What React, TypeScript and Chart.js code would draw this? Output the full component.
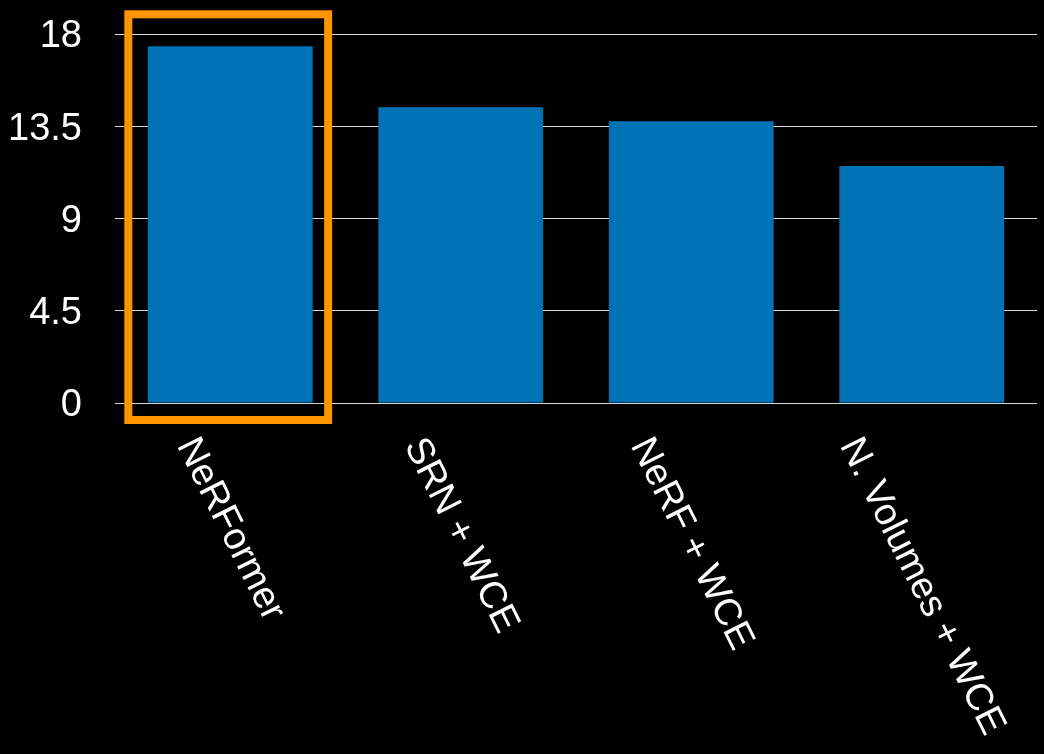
import React, { useEffect, useRef } from "react";
import { Chart, registerables } from "chart.js";

Chart.register(...registerables);

const categories = ["NeRFormer", "SRN + WCE", "NeRF + WCE", "N. Volumes + WCE"];
const values = [17.4, 14.43, 13.75, 11.56];
const yTickLabels = ["0", "4.5", "9", "13.5", "18"];
const highlightIndex = 0;

const FONT = "'Liberation Sans', Arial, Helvetica, sans-serif";

export default function App() {
  const ref = useRef<HTMLCanvasElement | null>(null);

  useEffect(() => {
    document.body.style.margin = "0";
    document.body.style.background = "#000";
    const canvas = ref.current;
    if (!canvas) return;

    const bgPlugin = {
      id: "bg",
      beforeDraw(chart: any) {
        const { ctx, width, height } = chart;
        ctx.save();
        ctx.fillStyle = "#000";
        ctx.fillRect(0, 0, width, height);
        ctx.restore();
      },
    };

    const labelsPlugin = {
      id: "rotLabels",
      afterDraw(chart: any) {
        const { ctx } = chart;
        const xs = chart.scales.x;
        const ys = chart.scales.y;
        const angle = (63.5 * Math.PI) / 180;
        const fs = 38;
        ctx.save();
        ctx.font = `${fs}px ${FONT}`;
        ctx.fillStyle = "#fff";
        ctx.textAlign = "center";
        ctx.textBaseline = "middle";
        const top = ys.getPixelForValue(0) + 30;
        categories.forEach((c, i) => {
          const w = ctx.measureText(c).width;
          const h = fs * 0.9;
          const H = w * Math.sin(angle) + h * Math.cos(angle);
          const cx = xs.getPixelForValue(i);
          ctx.save();
          ctx.translate(cx, top + H / 2);
          ctx.rotate(angle);
          ctx.fillText(c, 0, 0);
          ctx.restore();
        });

        // highlight box around chosen bar
        const meta = chart.getDatasetMeta(0);
        const bar = meta.data[highlightIndex] as any;
        if (bar) {
          const left = bar.x - bar.width / 2 - 19.5;
          const right = bar.x + bar.width / 2 + 15.5;
          const topY = ys.top - 19.7;
          const bottom = ys.getPixelForValue(0) + 17;
          ctx.strokeStyle = "#FF9500";
          ctx.lineWidth = 8;
          ctx.strokeRect(left, topY, right - left, bottom - topY);
        }
        ctx.restore();
      },
    };

    const chart = new Chart(canvas, {
      type: "bar",
      data: {
        labels: categories,
        datasets: [
          {
            data: values,
            backgroundColor: "#0073B7",
            borderWidth: 0,
            categoryPercentage: 1,
            barPercentage: 0.715,
          },
        ],
      },
      options: {
        animation: false,
        responsive: false,
        maintainAspectRatio: false,
        layout: { padding: { top: 34, right: 7, bottom: 351, left: 0 } },
        plugins: { legend: { display: false }, tooltip: { enabled: false } },
        scales: {
          x: { display: false },
          y: {
            min: 0,
            max: 18,
            afterFit: (s: any) => {
              s.width = 115;
              s.paddingTop = 20;
              s.paddingBottom = 20;
            },
            ticks: {
              stepSize: 4.5,
              padding: 33,
              labelOffset: 3,
              color: "#fff",
              font: { family: FONT, size: 38 },
              callback: (_v: any, i: number) => yTickLabels[i],
            },
            grid: {
              color: "rgba(255,255,255,0.85)",
              lineWidth: 1,
              drawTicks: false,
            },
            border: { display: false },
          },
        },
      },
      plugins: [bgPlugin, labelsPlugin],
    });

    return () => chart.destroy();
  }, []);

  return (
    <div style={{ width: 1044, height: 754, background: "#000" }}>
      <canvas ref={ref} width={1044} height={754} style={{ display: "block" }} />
    </div>
  );
}
